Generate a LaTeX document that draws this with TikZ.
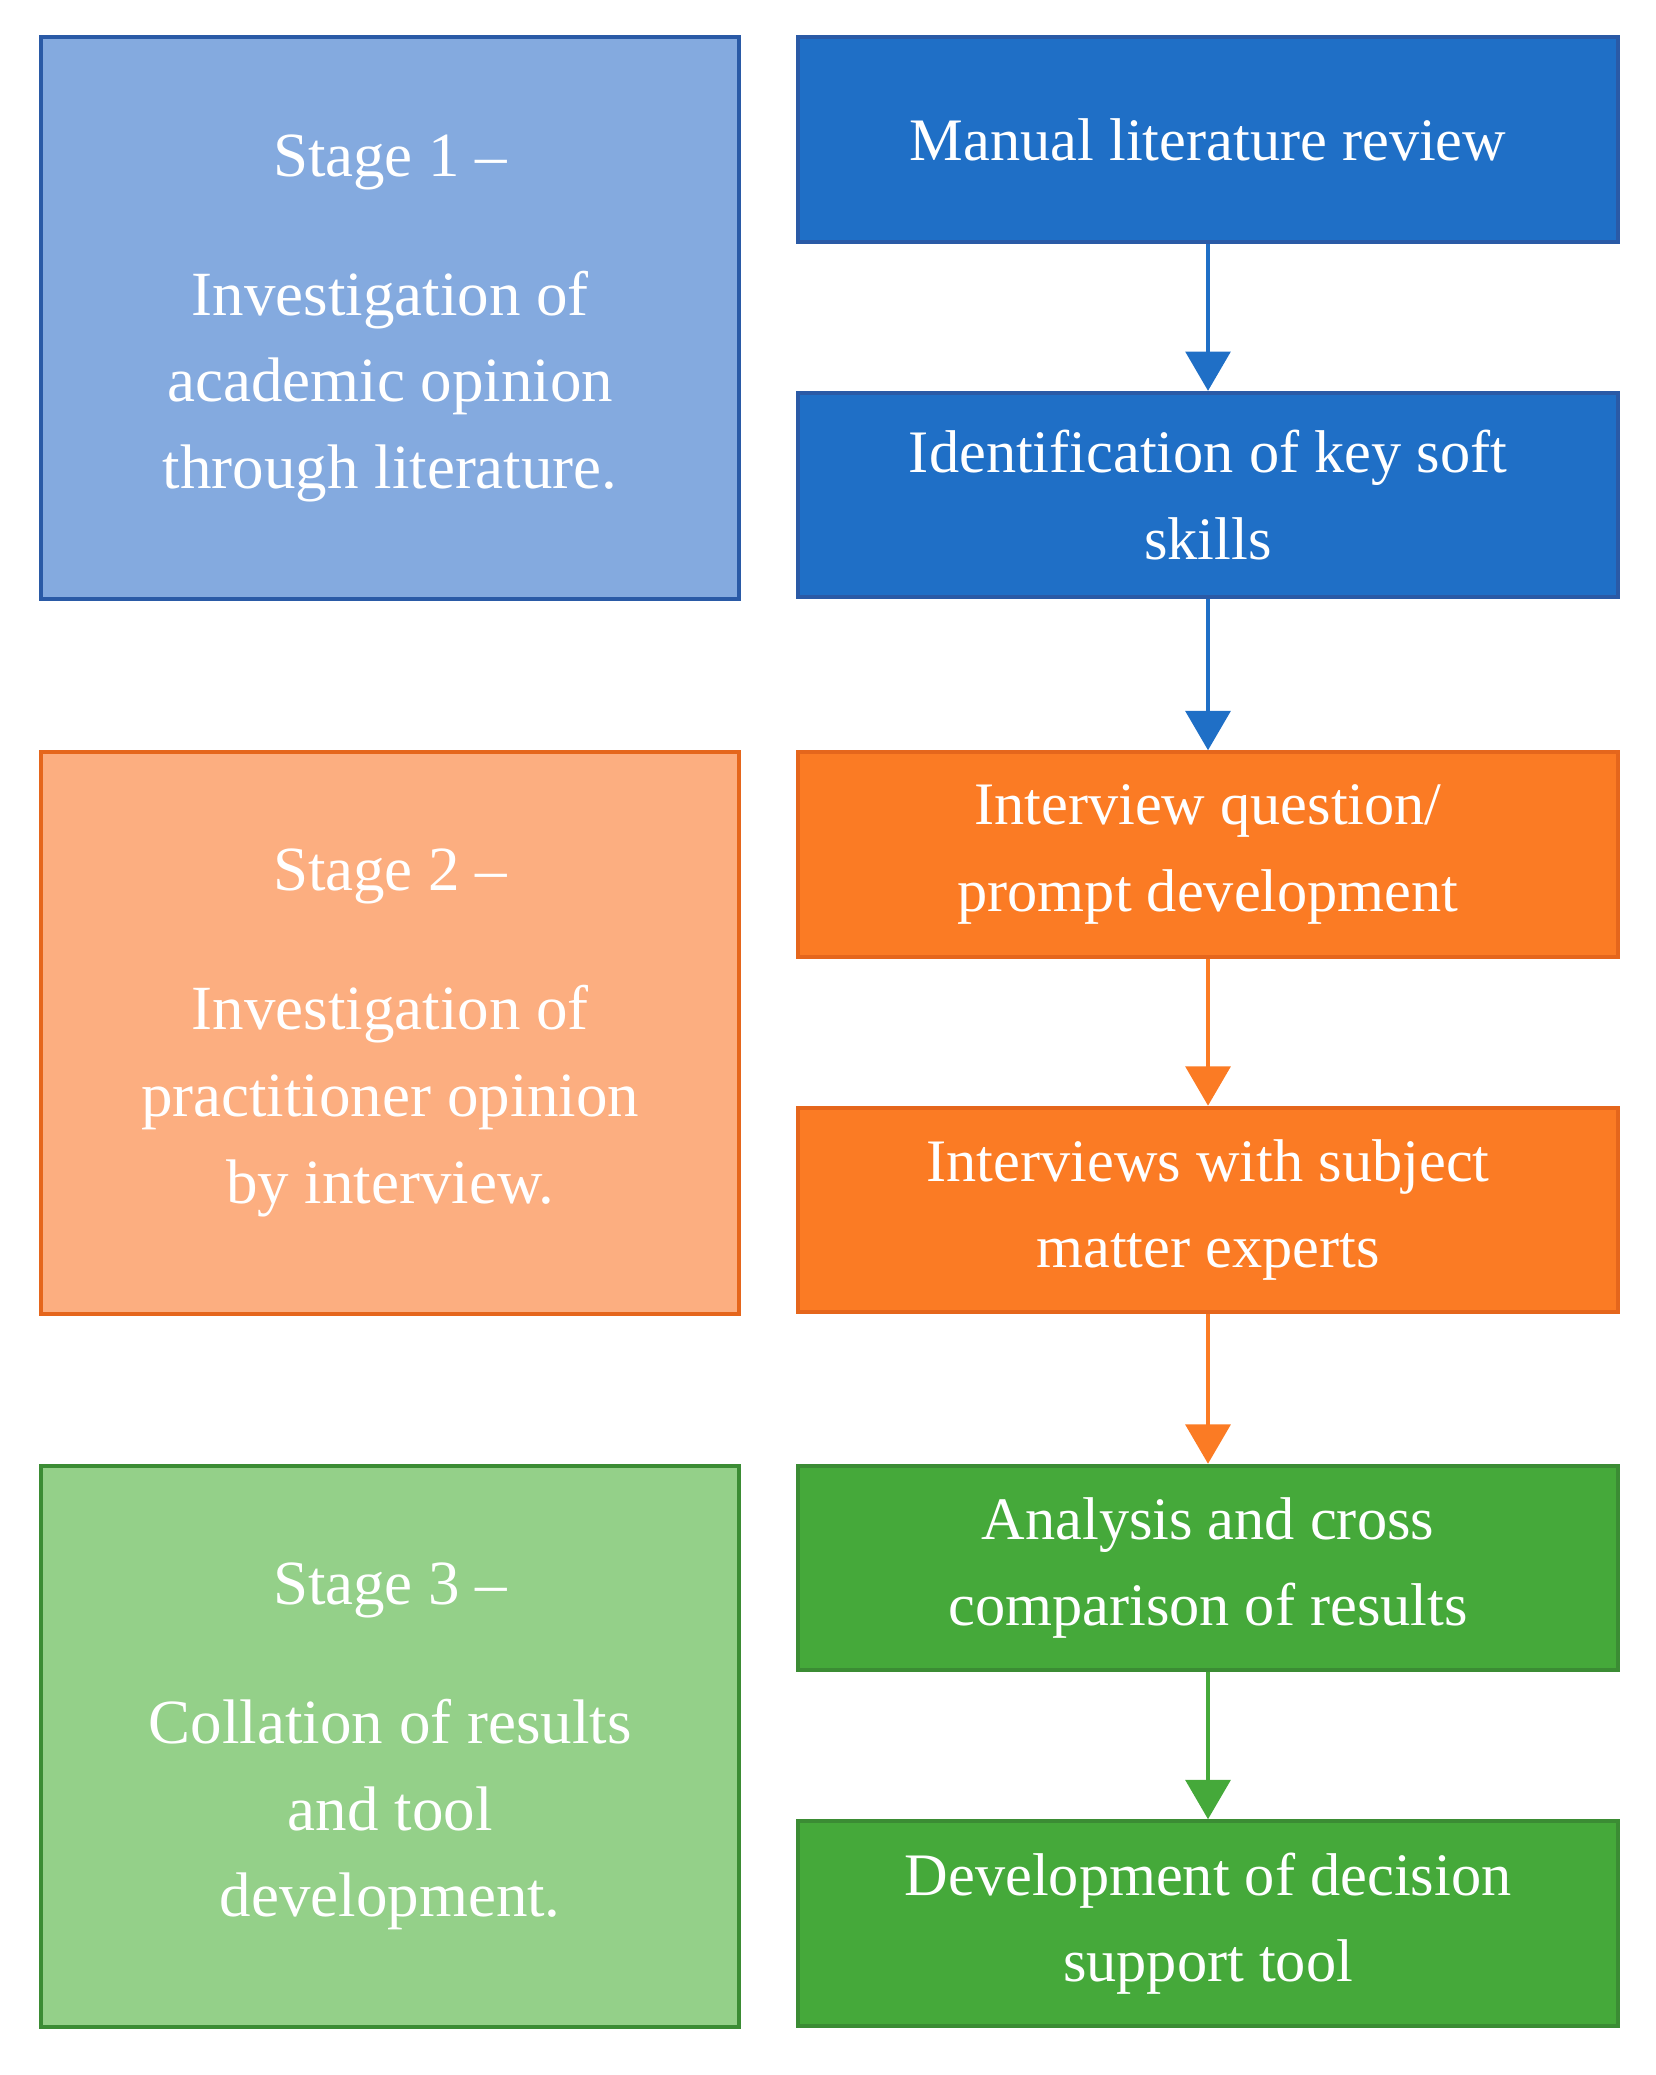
\documentclass[tikz,border=0pt]{standalone}
\usepackage{fontspec}
\setmainfont{Liberation Serif}
\usetikzlibrary{arrows.meta}
\definecolor{bD}{HTML}{1F6FC6}\definecolor{bB}{HTML}{2A5AA6}\definecolor{bL}{HTML}{84AADF}
\definecolor{oD}{HTML}{FB7B24}\definecolor{oB}{HTML}{E5661C}\definecolor{oL}{HTML}{FCAE80}
\definecolor{gD}{HTML}{45A93A}\definecolor{gB}{HTML}{3B8C34}\definecolor{gL}{HTML}{94D089}
\begin{document}
\begin{tikzpicture}[x=1pt,y=-1pt,
 box/.style={draw,line width=3pt,minimum width=625pt,minimum height=156pt,align=center,text=white,font=\fontsize{46}{66}\selectfont,anchor=north west,inner sep=0pt},
 sbox/.style={draw,line width=3pt,minimum width=532pt,minimum height=428pt,align=center,text=white,font=\fontsize{48}{66}\selectfont,anchor=north west,inner sep=0pt},
 arr/.style={line width=3.5pt,-{Triangle[length=30pt,width=34pt]}}]
\useasboundingbox (0,0) rectangle (1262,1582);
\node[sbox,draw=bB,fill=bL] (s1) at (30,27) {Stage 1 –\\[40pt]Investigation of\\academic opinion\\through literature.};
\node[sbox,draw=oB,fill=oL] (s2) at (30,572) {Stage 2 –\\[40pt]Investigation of\\practitioner opinion\\by interview.};
\node[sbox,draw=gB,fill=gL] (s3) at (30,1116) {Stage 3 –\\[40pt]Collation of results\\and tool\\development.};
\node[box,draw=bB,fill=bD] (a) at (607,27) {Manual literature review};
\node[box,draw=bB,fill=bD] (b) at (607,298) {Identification of key soft\\skills};
\node[box,draw=oB,fill=oD] (c) at (607,572) {Interview question/\\prompt development};
\node[box,draw=oB,fill=oD] (d) at (607,843) {Interviews with subject\\matter experts};
\node[box,draw=gB,fill=gD] (e) at (607,1116) {Analysis and cross\\comparison of results};
\node[box,draw=gB,fill=gD] (f) at (607,1387) {Development of decision\\support tool};
\draw[arr,bD] (a.south) -- (b.north);
\draw[arr,bD] (b.south) -- (c.north);
\draw[arr,oD] (c.south) -- (d.north);
\draw[arr,oD] (d.south) -- (e.north);
\draw[arr,gD] (e.south) -- (f.north);
\end{tikzpicture}
\end{document}
